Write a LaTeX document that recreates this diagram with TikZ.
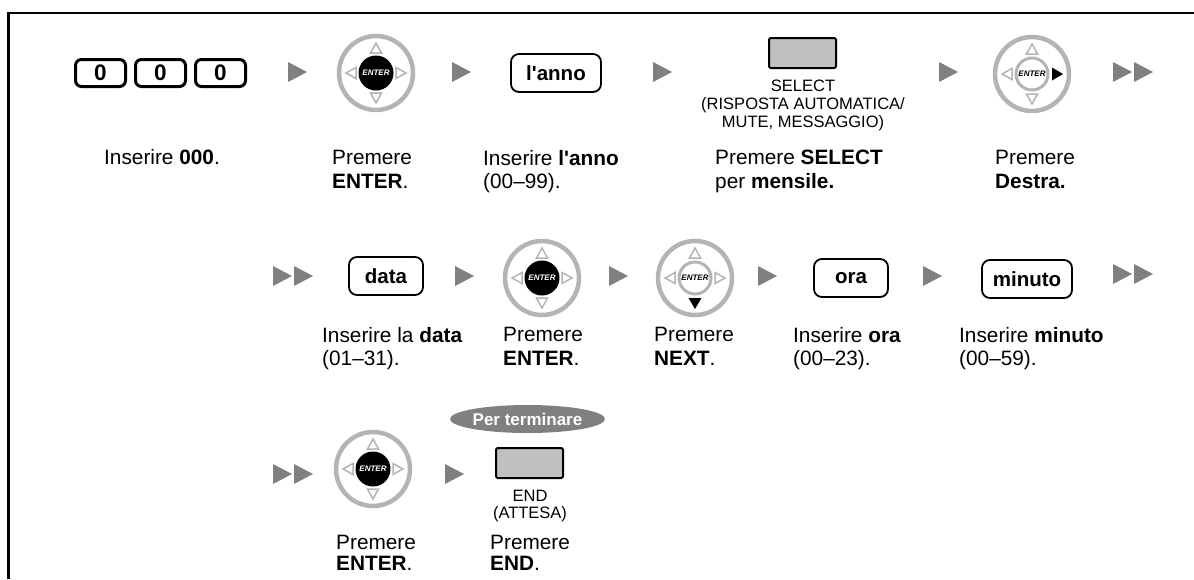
\documentclass[tikz,border=0pt]{standalone}
\usepackage{fontspec}
\setmainfont{Liberation Sans}
\usetikzlibrary{shapes.geometric}
\definecolor{arrowgray}{HTML}{808080}
\definecolor{navgray}{HTML}{B4B4B4}
\definecolor{btngray}{HTML}{C0C0C0}
\definecolor{ovalgray}{HTML}{808080}
\tikzset{
  body/.style={inner sep=0pt, align=left, font=\fontsize{20.8}{23.5}\selectfont},
  small/.style={inner sep=0pt, align=center, font=\fontsize{16.5}{18}\selectfont},
  digitkey/.style={draw, line width=3pt, rounded corners=6pt, minimum width=50pt, minimum height=27pt, inner sep=0pt, font=\fontsize{22.5}{23}\selectfont\bfseries},
  wordkey/.style={draw, line width=1.8pt, rounded corners=8pt, minimum height=38pt, inner sep=0pt, font=\fontsize{20.5}{23}\selectfont\bfseries},
  graybtn/.style={draw, fill=btngray, line width=2pt, rounded corners=2pt, minimum width=67pt, minimum height=30pt},
  oval/.style={ellipse, fill=ovalgray, text=white, minimum width=135pt, minimum height=28pt, inner sep=0pt, font=\fontsize{17}{17}\selectfont\bfseries},
  pics/play/.style={code={\fill[arrowgray] (0,-10) -- (19,0) -- (0,10) -- cycle;}},
  pics/dplay/.style={code={\fill[arrowgray] (0,-10) -- (19,0) -- (0,10) -- cycle;
     \fill[arrowgray] (21,-10) -- (40,0) -- (21,10) -- cycle;}},
  navtri/.style={draw=navgray, line width=1.5pt, fill=white, line join=miter},
  navring/.style={draw=navgray, line width=4.5pt},
  enterfont/.style={font=\fontsize{8}{8}\selectfont\bfseries\itshape},
  pics/naventer/.style={code={
     \draw[navring] (0,0) circle[radius=37pt];
     \draw[navtri] (-5.5,-20) -- (5.5,-20) -- (0,-30) -- cycle;
     \draw[navtri] (-5.5,20) -- (5.5,20) -- (0,30) -- cycle;
     \draw[navtri] (-20,-5.5) -- (-20,5.5) -- (-30,0) -- cycle;
     \draw[navtri] (20,-5.5) -- (20,5.5) -- (30,0) -- cycle;
     \node[circle, fill=black, minimum size=35pt, inner sep=0pt, text=white, enterfont] (-c) at (0,0) {ENTER};
  }},
  pics/navright/.style={code={
     \draw[navring] (0,0) circle[radius=37pt];
     \draw[navtri] (-5.5,-20) -- (5.5,-20) -- (0,-30) -- cycle;
     \draw[navtri] (-5.5,20) -- (5.5,20) -- (0,30) -- cycle;
     \draw[navtri] (-20,-5.5) -- (-20,5.5) -- (-30,0) -- cycle;
     \fill[black] (20,-6.5) -- (20,6.5) -- (31,0) -- cycle;
     \node[circle, draw=navgray, line width=3pt, fill=white, minimum size=32pt, inner sep=0pt, enterfont] (-c) at (0,0) {ENTER};
  }},
  pics/navdown/.style={code={
     \draw[navring] (0,0) circle[radius=37pt];
     \draw[navtri] (-5.5,-20) -- (5.5,-20) -- (0,-30) -- cycle;
     \draw[navtri] (-20,-5.5) -- (-20,5.5) -- (-30,0) -- cycle;
     \draw[navtri] (20,-5.5) -- (20,5.5) -- (30,0) -- cycle;
     \fill[black] (-6.5,20) -- (6.5,20) -- (0,31) -- cycle;
     \node[circle, draw=navgray, line width=3pt, fill=white, minimum size=32pt, inner sep=0pt, enterfont] (-c) at (0,0) {ENTER};
  }},
}
\begin{document}
\begin{tikzpicture}[x=1pt, y=-1pt]
\useasboundingbox (0,0) rectangle (1194,579);
\draw[line width=2.5pt] (8.5,579) -- (8.5,13) -- (1194,13);
% Row 1
\node[digitkey] (k1) at (100.5,73) {0};
\node[digitkey] (k2) at (160.5,73) {0};
\node[digitkey] (k3) at (220.5,73) {0};
\pic at (288,72) {play};
\pic (n1) at (376,73) {naventer};
\pic at (452,72) {play};
\node[wordkey, minimum width=90pt] (anno) at (556,73) {l\textquotesingle anno};
\pic at (653,72) {play};
\node[graybtn] (sel) at (802.5,53) {};
\node[small, anchor=north] (sellbl) at (803,80) {SELECT\\(RISPOSTA AUTOMATICA/\\MUTE, MESSAGGIO)};
\pic at (939,72) {play};
\pic (n2) at (1032,74) {navright};
\pic at (1113,72) {dplay};
\node[body] (t1) at (162,157) {Inserire \textbf{000}.};
\node[body, anchor=north west] (t2) at (332,150) {Premere\\\textbf{ENTER}.};
\node[body, anchor=north west] (t3) at (483,150) {Inserire \textbf{l\textquotesingle anno}\\(00–99).};
\node[body, anchor=north west] (t4) at (715,150) {Premere \textbf{SELECT}\\per \textbf{mensile.}};
\node[body, anchor=north west] (t5) at (995,150) {Premere\\\textbf{Destra.}};
% Row 2
\pic at (273,276) {dplay};
\node[wordkey, minimum width=74pt] (data) at (386,276) {data};
\pic at (455,276) {play};
\pic (n3) at (542,278) {naventer};
\pic at (609,276) {play};
\pic (n4) at (695,278) {navdown};
\pic at (758,276) {play};
\node[wordkey, minimum width=74pt] (ora) at (851,278) {ora};
\pic at (923,276) {play};
\node[wordkey, minimum width=90pt] (minuto) at (1027,279) {minuto};
\pic at (1113,274) {dplay};
\node[body, anchor=north west] (t6) at (322,327) {Inserire la \textbf{data}\\(01–31).};
\node[body, anchor=north west] (t7) at (503,327) {Premere\\\textbf{ENTER}.};
\node[body, anchor=north west] (t8) at (654,327) {Premere\\\textbf{NEXT}.};
\node[body, anchor=north west] (t9) at (793,327) {Inserire \textbf{ora}\\(00–23).};
\node[body, anchor=north west] (t10) at (959,327) {Inserire \textbf{minuto}\\(00–59).};
% Row 3
\pic at (273,474) {dplay};
\pic (n5) at (373,469) {naventer};
\pic at (445,474) {play};
\node[oval] (fine) at (527.5,419) {Per terminare};
\node[graybtn] (endb) at (529.5,463) {};
\node[small, anchor=north, font=\fontsize{16.5}{17}\selectfont] (endlbl) at (530,490) {END\\(ATTESA)};
\node[body, anchor=north west, font=\fontsize{20.8}{21}\selectfont] (t11) at (336,535) {Premere\\\textbf{ENTER}.};
\node[body, anchor=north west, font=\fontsize{20.8}{21}\selectfont] (t12) at (490,535) {Premere\\\textbf{END}.};
\end{tikzpicture}
\end{document}
